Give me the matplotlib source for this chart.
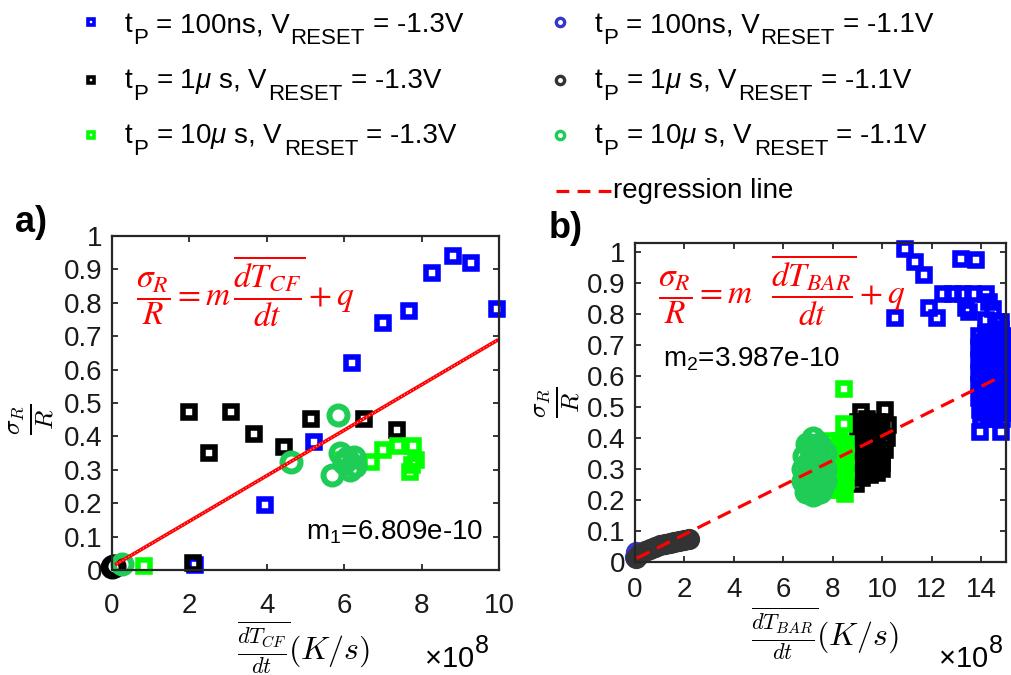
import numpy as np
import matplotlib
matplotlib.use('Agg')
import matplotlib.pyplot as plt
from matplotlib.lines import Line2D
from matplotlib.ticker import FuncFormatter

plt.rcParams['font.family'] = ['Liberation Sans', 'DejaVu Sans']
plt.rcParams['mathtext.fontset'] = 'custom'
plt.rcParams['mathtext.rm'] = 'Liberation Sans'
plt.rcParams['mathtext.it'] = 'Liberation Sans:italic'
plt.rcParams['mathtext.bf'] = 'Liberation Sans:bold'

# x values are in units of 1e8 K/s (axis shows x10^8)
SCALE = 1e8

# ---------------- panel a) : dT_CF/dt ----------------
a_b13_x = [2.14, 3.94, 5.23, 6.19, 7.00, 7.68, 8.28, 8.80, 9.28, 9.94]
a_b13_y = [0.015, 0.195, 0.384, 0.621, 0.740, 0.776, 0.888, 0.940, 0.918, 0.780]
a_k13_x = [2.10, 2.00, 2.51, 3.07, 3.68, 4.45, 5.14, 6.51, 7.36]
a_k13_y = [0.020, 0.474, 0.351, 0.474, 0.407, 0.369, 0.451, 0.451, 0.420]
a_g13_x = [0.83, 5.95, 6.68, 7.01, 7.38, 7.77, 7.74, 7.86, 7.70]
a_g13_y = [0.013, 0.330, 0.324, 0.359, 0.372, 0.372, 0.314, 0.330, 0.294]
a_b11_x = [0.02]
a_b11_y = [0.012]
a_k11_x = [0.00, 0.05]
a_k11_y = [0.010, 0.012]
a_g11_x = [0.25, 4.63, 5.68, 5.83, 5.89, 6.06, 6.24, 6.15, 6.28, 6.00]
a_g11_y = [0.017, 0.324, 0.284, 0.464, 0.349, 0.334, 0.339, 0.299, 0.310, 0.320]

m1, q1 = 6.809e-10, 0.01
a_fit_x = [0.12, 9.94]

# ---------------- panel b) : dT_BAR/dt ----------------
b_b13_x = [10.93, 11.33, 11.67, 10.52, 11.88, 12.23, 13.19, 13.80, 12.47, 12.87,
           13.28, 13.66, 14.19, 13.40, 13.52, 14.30, 14.49, 14.79, 14.20, 14.60]
b_b13_y = [1.010, 0.968, 0.927, 0.788, 0.820, 0.788, 0.978, 0.973, 0.866, 0.866,
           0.866, 0.866, 0.866, 0.820, 0.805, 0.840, 0.817, 0.774, 0.780, 0.770]
# dense column of 100ns points at the right edge
b_col_x = [13.9, 14.2, 14.5, 14.8, 14.05, 14.35, 14.65, 14.95,
           13.9, 14.2, 14.5, 14.8, 14.05, 14.35, 14.65, 14.95,
           13.9, 14.2, 14.5, 14.8, 14.05, 14.35, 14.65, 14.95,
           13.9, 14.2, 14.5, 14.8, 14.05, 14.35, 14.65, 14.95,
           13.9, 14.2, 14.5, 14.8, 14.05, 14.35, 14.65, 14.95,
           13.9, 14.2, 14.5, 14.8, 14.05, 14.35, 14.65, 14.95,
           13.95, 14.25, 14.5, 14.8, 14.1, 14.4, 14.7, 14.95,
           14.0, 14.3, 14.55, 14.85, 13.95, 14.79]
b_col_y = [0.73, 0.74, 0.74, 0.75, 0.71, 0.72, 0.72, 0.73,
           0.69, 0.70, 0.70, 0.71, 0.67, 0.68, 0.68, 0.69,
           0.65, 0.66, 0.66, 0.67, 0.63, 0.64, 0.64, 0.64,
           0.61, 0.62, 0.62, 0.62, 0.59, 0.60, 0.60, 0.60,
           0.57, 0.58, 0.58, 0.58, 0.55, 0.56, 0.56, 0.56,
           0.53, 0.54, 0.54, 0.54, 0.51, 0.52, 0.52, 0.52,
           0.49, 0.50, 0.50, 0.50, 0.48, 0.48, 0.48, 0.48,
           0.46, 0.46, 0.46, 0.46, 0.42, 0.42]
b_k13_x = [9.13, 10.10, 9.00, 9.40, 9.80, 10.25, 9.20, 9.60, 10.00,
           9.00, 9.40, 9.80, 10.20, 9.20, 9.60, 10.05,
           9.00, 9.40, 9.80, 10.10, 9.20, 9.60, 10.00,
           9.00, 9.40, 9.80, 10.00, 9.15, 9.55, 9.90,
           9.00, 9.30, 9.70, 10.00, 8.95, 9.20, 9.50, 9.80]
b_k13_y = [0.484, 0.489, 0.450, 0.460, 0.450, 0.440, 0.430, 0.440, 0.430,
           0.410, 0.420, 0.410, 0.400, 0.390, 0.400, 0.380,
           0.370, 0.380, 0.370, 0.360, 0.350, 0.360, 0.340,
           0.330, 0.340, 0.330, 0.320, 0.310, 0.320, 0.310,
           0.290, 0.300, 0.300, 0.300, 0.250, 0.270, 0.280, 0.285]
b_g13_x = [8.46, 8.46, 7.95, 8.30, 8.55, 8.10, 8.45, 7.95, 8.30, 8.55, 8.10, 8.45,
           7.95, 8.30, 8.55, 8.10, 8.45, 7.95, 8.30, 8.55, 8.10, 8.45, 7.95, 8.30, 8.50]
b_g13_y = [0.559, 0.446, 0.390, 0.390, 0.380, 0.370, 0.365, 0.350, 0.350, 0.340, 0.330, 0.325,
           0.310, 0.310, 0.300, 0.290, 0.285, 0.270, 0.270, 0.260, 0.250, 0.245, 0.230, 0.230, 0.220]
b_b11_x = [0.00, 0.03]
b_b11_y = [0.015, 0.030]
b_k11_x = [0.05, 0.20, 0.40, 0.60, 0.80, 1.00, 1.20, 1.40, 1.60, 1.80, 2.00, 2.20]
b_k11_y = [0.012, 0.025, 0.035, 0.042, 0.048, 0.053, 0.057, 0.061, 0.064, 0.067, 0.070, 0.072]
b_g11_x = [7.20, 6.95, 7.45, 7.10, 7.35, 6.85, 7.15, 7.45, 7.70, 7.00, 7.30, 7.58,
           6.80, 7.10, 7.40, 7.70, 6.95, 7.25, 7.55, 6.80, 7.10, 7.40, 7.70,
           6.95, 7.25, 7.55, 6.90, 7.20, 7.50]
b_g11_y = [0.400, 0.380, 0.380, 0.365, 0.365, 0.340, 0.340, 0.340, 0.350, 0.320, 0.320, 0.320,
           0.300, 0.300, 0.300, 0.300, 0.280, 0.280, 0.280, 0.260, 0.260, 0.260, 0.260,
           0.240, 0.240, 0.240, 0.225, 0.215, 0.225]

m2, q2 = 3.987e-10, 0.008
b_fit_x = [0.07, 14.8]

y_ticks = [0, 0.1, 0.2, 0.3, 0.4, 0.5, 0.6, 0.7, 0.8, 0.9, 1.0]

# legend label parts: t_P = <tp>, V_RESET = <v>
leg_tp = ['100ns', r'1$\mathit{\mu}$ s', r'10$\mathit{\mu}$ s']
leg_v = ['-1.3V', '-1.1V']

C_BLUE = '#0000ff'
C_BLACK = '#000000'
C_LIME = '#00ff00'
C_BLUE2 = '#3535c8'
C_GREY = '#333333'
C_GREEN = '#1fcc55'
AX_COL = '#262626'


def style_axes(ax, xmax, ymax, xticks, xpad):
    ax.set_xlim(0, xmax)
    ax.set_ylim(0, ymax)
    ax.set_xticks(xticks)
    ax.set_yticks(y_ticks)
    fmt = FuncFormatter(lambda v, p: f'{v:g}')
    ax.xaxis.set_major_formatter(fmt)
    ax.yaxis.set_major_formatter(fmt)
    ax.tick_params(direction='in', top=True, right=True, length=4, width=1.3,
                   labelsize=20, color=AX_COL, labelcolor='#1a1a1a')
    ax.tick_params(axis='x', pad=xpad)
    ax.tick_params(axis='y', pad=7)
    for s in ax.spines.values():
        s.set_linewidth(1.6)
        s.set_color(AX_COL)


def squares(ax, x, y, c, ms=9, mew=4.0):
    ax.plot(x, y, ls='none', marker='s', ms=ms, mew=mew, mec=c, mfc='none', clip_on=False)


def circles(ax, x, y, c, ms=13, mew=4.3):
    ax.plot(x, y, ls='none', marker='o', ms=ms, mew=mew, mec=c, mfc='none', clip_on=False)


fig = plt.figure(figsize=(10.11, 6.75), dpi=100)
renderer = fig.canvas.get_renderer()
axA = fig.add_axes([0.1108, 0.1556, 0.3828, 0.4948])
axB = fig.add_axes([0.628, 0.1679, 0.367, 0.4725])

# ----- panel a
squares(axA, a_b13_x, a_b13_y, C_BLUE)
squares(axA, a_k13_x, a_k13_y, C_BLACK)
squares(axA, a_g13_x, a_g13_y, C_LIME)
circles(axA, a_b11_x, a_b11_y, C_BLUE2)
circles(axA, a_k11_x, a_k11_y, C_BLACK)
circles(axA, a_g11_x, a_g11_y, C_GREEN)
fa = np.array(a_fit_x)
axA.plot(fa, m1 * fa * SCALE + q1, color='red', lw=2.6)
axA.plot(fa, m1 * fa * SCALE + q1, color='white', lw=0.7, ls=(0, (1, 2.5)), alpha=0.8)
style_axes(axA, 10, 1.0, [0, 2, 4, 6, 8, 10], 16.5)

axA.text(3.45, 0.835, r'$\dfrac{\sigma_R}{R}=m\,\overline{\dfrac{dT_{CF}}{dt}}+q$',
         color='red', fontsize=24, ha='center', va='center', math_fontfamily='stix')
axA.text(9.6, 0.09, r'm$_\mathrm{1}$=6.809e-10', fontsize=20, ha='right', va='baseline')
axA.set_ylabel(r'$\frac{\sigma_R}{R}$', fontsize=26, math_fontfamily='cm', va='center', rotation=90)
axA.yaxis.set_label_coords(-0.205, 0.45)
axA.set_xlabel(r'$\overline{\frac{dT_{CF}}{dt}}(K/s)$', fontsize=23, math_fontfamily='cm', va='center')
axA.xaxis.set_label_coords(0.496, -0.232)

# ----- panel b
squares(axB, b_b13_x, b_b13_y, C_BLUE)
squares(axB, b_col_x, b_col_y, C_BLUE)
squares(axB, b_k13_x, b_k13_y, C_BLACK)
squares(axB, b_g13_x, b_g13_y, C_LIME)
circles(axB, b_b11_x, b_b11_y, C_BLUE2, ms=11)
circles(axB, b_k11_x, b_k11_y, C_GREY, ms=11)
circles(axB, b_g11_x, b_g11_y, C_GREEN, ms=13)
fb = np.array(b_fit_x)
axB.plot(fb, m2 * fb * SCALE + q2, color='red', lw=2.3, ls=(0, (4.5, 2.6)))
style_axes(axB, 15, 1.03, [0, 2, 4, 6, 8, 10, 12, 14], 11)

axB.text(5.95, 0.878, r'$\dfrac{\sigma_R}{R}=m\;\;\;\overline{\dfrac{dT_{BAR}}{dt}}+q$',
         color='red', fontsize=24, ha='center', va='center', math_fontfamily='stix')
axB.text(1.13, 0.629, r'm$_\mathrm{2}$=3.987e-10', fontsize=20, ha='left', va='baseline')
axB.set_ylabel(r'$\frac{\sigma_R}{R}$', fontsize=26, math_fontfamily='cm', va='center', rotation=90)
axB.yaxis.set_label_coords(-0.207, 0.5)
axB.set_xlabel(r'$\overline{\frac{dT_{BAR}}{dt}}(K/s)$', fontsize=23, math_fontfamily='cm', va='center')
axB.xaxis.set_label_coords(0.511, -0.225)


def px(x, y):
    return x / 1011, 1 - y / 675


def pieces(x0, y0, parts):
    # parts: (text, fontsize, baseline shift in px, gap before in px)
    x = x0
    for s, size, dy, gap in parts:
        x += gap
        t = fig.text(*px(x, y0 + dy), s, fontsize=size, ha='left', va='baseline')
        x += t.get_window_extent(renderer).width


def tp_label(x0, y0, tp, v):
    pieces(x0, y0, [('t', 20, 0, 0), ('P', 16, 12, 0.5),
                    ('= ' + tp + ', V', 20, 0, 8), ('RESET', 16, 12, 0.5),
                    ('= ' + v, 20, 0, 8)])


# x10^8 multipliers
for xm in [424, 938]:
    pieces(xm, 667, [(r'$\times$10', 21, 0, 0), ('8', 18, -14, 1)])

# panel letters
fig.text(*px(15, 232), 'a)', fontsize=26, fontweight='bold', ha='left', va='baseline')
fig.text(*px(549, 238), 'b)', fontsize=26, fontweight='bold', ha='left', va='baseline')

# legend (drawn by hand, MATLAB style)
rows_marker = [22, 80, 135]
rows_text = [32, 88, 143]
for i, c in enumerate([C_BLUE, C_BLACK, C_LIME]):
    fig.add_artist(Line2D([px(91, 0)[0]], [px(0, rows_marker[i])[1]], transform=fig.transFigure,
                          marker='s', ms=5, mew=2.6, mec=c, mfc='none', ls='none'))
    tp_label(125, rows_text[i], leg_tp[i], leg_v[0])
for i, c in enumerate([C_BLUE2, C_GREY, C_GREEN]):
    fig.add_artist(Line2D([px(560, 0)[0]], [px(0, rows_marker[i])[1]], transform=fig.transFigure,
                          marker='o', ms=6, mew=2.4, mec=c, mfc='none', ls='none'))
    tp_label(595, rows_text[i], leg_tp[i], leg_v[1])
fig.add_artist(Line2D([px(556, 0)[0], px(611, 0)[0]], [px(0, 191)[1]] * 2, transform=fig.transFigure,
                      color='red', lw=2.3, ls=(0, (4, 2.6))))
fig.text(*px(613, 198), 'regression line', fontsize=20, ha='left', va='baseline')

fig.savefig('out.png', dpi=100)
